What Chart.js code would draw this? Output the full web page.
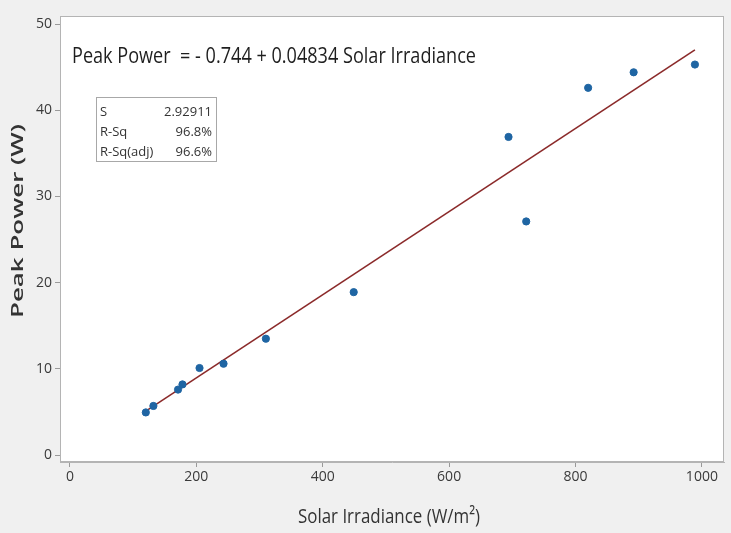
<!DOCTYPE html>
<html>
<head>
<meta charset="utf-8">
<script src="https://cdn.jsdelivr.net/npm/chart.js@4"></script>
<style>
  html,body{margin:0;padding:0;background:#f0f0f0;}
  #wrap{width:731px;height:533px;}
</style>
</head>
<body>
<div id="wrap"><canvas id="fitChart" width="731" height="533"></canvas></div>
<script>
// measured points (Solar Irradiance W/m2, Peak Power W)
const irradiance = [120, 132, 171, 178, 205, 243, 310, 449, 694, 722, 820, 892, 989];
const peakPower  = [4.95, 5.7, 7.6, 8.2, 10.1, 10.6, 13.5, 18.9, 36.9, 27.1, 42.6, 44.4, 45.3];

// fitted line, ends
const fitX = [120, 989];
const fitY = [5.1, 47.0];

const xTicks = [0, 200, 400, 600, 800, 1000];
const yTicks = [0, 10, 20, 30, 40, 50];

const equation = 'Peak Power  = - 0.744 + 0.04834 Solar Irradiance';
const statNames  = ['S', 'R-Sq', 'R-Sq(adj)'];
const statValues = ['2.92911', '96.8%', '96.6%'];

const FONT = '"Open Sans", "DejaVu Sans", sans-serif';

// draw text squeezed/stretched to a given width
function fitText(ctx, text, x, y, width, font){
  ctx.font = font;
  const w = ctx.measureText(text).width;
  ctx.save();
  ctx.translate(x, y);
  ctx.scale(width / w, 1);
  ctx.fillText(text, 0, 0);
  ctx.restore();
}

const decor = {
  id: 'decor',
  beforeDraw(chart){
    const {ctx, chartArea:a} = chart;
    ctx.save();
    ctx.fillStyle = '#f0f0f0';
    ctx.fillRect(0, 0, chart.width, chart.height);
    ctx.fillStyle = '#ffffff';
    ctx.fillRect(a.left, a.top, a.right - a.left, a.bottom - a.top);
    ctx.restore();
  },
  afterDraw(chart){
    const {ctx, chartArea:a} = chart;
    ctx.save();
    ctx.strokeStyle = '#b4b4b4'; ctx.lineWidth = 1;
    ctx.strokeRect(a.left + 0.5, a.top + 0.5, a.right - a.left - 1, a.bottom - a.top - 1);

    // regression equation
    ctx.fillStyle = '#1e1e1e'; ctx.textBaseline = 'middle'; ctx.textAlign = 'left';
    fitText(ctx, equation, 72, 57, 404, '22px ' + FONT);

    // stats box
    ctx.fillStyle = '#ffffff'; ctx.fillRect(96, 97, 121, 65);
    ctx.strokeStyle = '#a8a8a8'; ctx.strokeRect(96.5, 97.5, 120, 64);
    ctx.fillStyle = '#333';
    ctx.font = '13px ' + FONT;
    statNames.forEach((n, i) => {
      ctx.textAlign = 'left'; ctx.fillText(n, 100, 112 + i * 20);
      ctx.textAlign = 'right'; ctx.fillText(statValues[i], 212, 112 + i * 20);
    });

    // axis titles
    ctx.fillStyle = '#333'; ctx.textAlign = 'left';
    fitText(ctx, 'Solar Irradiance (W/m\u00B2)', 298, 517, 182, '20px ' + FONT);
    ctx.save();
    ctx.translate(18, 318);
    ctx.rotate(-Math.PI / 2);
    fitText(ctx, 'Peak Power (W)', 0, 0, 194, '600 17px ' + FONT);
    ctx.restore();
    ctx.restore();
  }
};

const tickStyle = { font: { family: FONT, size: 14 }, color: '#3a3a3a', callback: v => String(v) };

new Chart(document.getElementById('fitChart'), {
  type: 'scatter',
  data: {
    datasets: [
      {
        label: 'Data',
        data: irradiance.map((x, i) => ({ x, y: peakPower[i] })),
        backgroundColor: '#1f65a3', borderColor: '#1f65a3',
        pointRadius: 3.6, pointHoverRadius: 3.6, order: 0
      },
      {
        label: 'Fit',
        data: fitX.map((x, i) => ({ x, y: fitY[i] })),
        showLine: true, borderColor: '#8b2a2a', borderWidth: 1.6,
        pointRadius: 0, fill: false, order: 1
      }
    ]
  },
  options: {
    responsive: false,
    animation: false,
    devicePixelRatio: 1,
    layout: { padding: { top: 16, right: 7, left: 0, bottom: 0 } },
    plugins: { legend: { display: false }, tooltip: { enabled: false } },
    scales: {
      x: {
        type: 'linear', min: -15.8, max: 1035,
        afterBuildTicks: s => { s.ticks = xTicks.map(v => ({ value: v })); },
        afterFit: s => { s.height = 71; },
        ticks: { ...tickStyle, padding: 2, maxRotation: 0 },
        grid: { drawOnChartArea: false, tickLength: 5, color: '#9a9a9a' },
        border: { color: '#b4b4b4' }
      },
      y: {
        type: 'linear', min: -0.8, max: 50.93,
        afterBuildTicks: s => { s.ticks = yTicks.map(v => ({ value: v })); },
        afterFit: s => { s.width = 60; },
        ticks: { ...tickStyle, padding: 3 },
        grid: { drawOnChartArea: false, tickLength: 5, color: '#9a9a9a' },
        border: { color: '#b4b4b4' }
      }
    }
  },
  plugins: [decor]
});
</script>
</body>
</html>
